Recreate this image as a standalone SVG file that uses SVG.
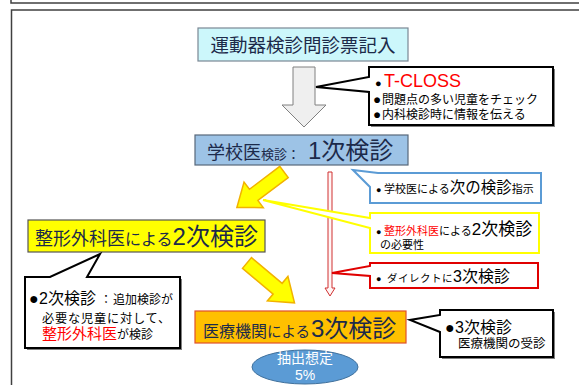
<svg xmlns="http://www.w3.org/2000/svg" width="579" height="385" viewBox="0 0 579 385">
<defs>
<style>
text{font-family:'Liberation Sans','Noto Sans CJK JP',sans-serif;fill:#000}
.nav{fill:#1c2a4a}
.red{fill:#ff0000}
.frame{fill:none;stroke:#404040;stroke-width:1.5}
.call{fill:#fff;stroke:#000;stroke-width:2;stroke-linejoin:miter}
.shadow{fill:#808080;stroke:none}
.yarrow{fill:#ffff00;stroke:#f2b200;stroke-width:1.5;stroke-linejoin:miter}
</style>
</defs>
<rect width="579" height="385" fill="#fff"/>
<g id="frame">
<path class="frame" d="M11,0 V3 H579"/>
<path class="frame" d="M579,10 H11.5 V385"/>
</g>
<g id="connectors">
<polygon points="293,67 315,67 315,105 326,105 304,127 282,105 293,105" fill="#efefef" stroke="#808080" stroke-width="1"/>
<polygon class="yarrow" transform="translate(284,172) rotate(143)" points="0,-7 38,-7 38,-16 59,0 38,16 38,7 0,7"/>
<polygon class="yarrow" transform="translate(247,263) rotate(40)" points="0,-7 40,-7 40,-16 62,0 40,16 40,7 0,7"/>
<polygon points="328,172 332,172 332,288 335,288 330,296 325,288 328,288" fill="#fff5f5" stroke="#d03030" stroke-width="1"/>
</g>
<g id="n1">
<rect x="198" y="28" width="210" height="33" fill="#ccf7fb" stroke="#7a8794" stroke-width="1.2"/>
<text x="303" y="52" font-size="18.5" text-anchor="middle" class="nav">運動器検診問診票記入</text>
</g>
<g id="tcloss">
<path class="shadow" d="M371,69 H555 V127 H371 Z"/>
<path class="call" d="M369,67 H553 V125 H369 V92 L316,87 L369,77 Z"/>
<text y="87"><tspan x="375" font-size="11">●</tspan><tspan x="384" font-size="18" class="red">T-CLOSS</tspan></text>
<text y="104" font-size="12"><tspan x="373" font-size="13.5">●</tspan><tspan x="382">問題点の多い児童をチェック</tspan></text>
<text y="119" font-size="12"><tspan x="373" font-size="13.5">●</tspan><tspan x="382">内科検診時に情報を伝える</tspan></text>
</g>
<g id="n2">
<rect x="195" y="135" width="213" height="30" fill="#9dc3e6" stroke="#58687a" stroke-width="1.2"/>
<text y="159" class="nav"><tspan x="207" font-size="18">学校医</tspan><tspan font-size="13">検診</tspan><tspan font-size="13">：</tspan><tspan x="308" font-size="24">1次検診</tspan></text>
</g>
<g id="blue">
<path d="M353,170 L378,173 H541 V203 H370 V187 Z" fill="#fff" stroke="#5b9bd5" stroke-width="2"/>
<text y="193"><tspan x="376" font-size="9">●</tspan><tspan x="384" font-size="11">学校医による</tspan><tspan font-size="15.5">次の検診</tspan><tspan font-size="11">指示</tspan></text>
</g>
<g id="yellow">
<path d="M370,213 H539 V253 H370 V228 L263,200 L370,218 Z" fill="#fff" stroke="#ffff00" stroke-width="2"/>
<text y="235"><tspan x="376" font-size="9">●</tspan><tspan x="384" font-size="11" class="red">整形外科医</tspan><tspan font-size="11">による</tspan><tspan font-size="17">2次検診</tspan></text>
<text x="380" y="249" font-size="11">の必要性</text>
</g>
<g id="redc">
<path d="M370,263 H538 V288 H370 V276 L332,273 L370,266 Z" fill="#fff" stroke="#e00000" stroke-width="2"/>
<text y="282"><tspan x="376" font-size="9">●</tspan><tspan x="387" font-size="10.5" letter-spacing="0.5">ダイレクトに</tspan><tspan font-size="16">3次検診</tspan></text>
</g>
<g id="n3">
<rect x="28" y="220" width="237" height="32" fill="#ffff00" stroke="#555" stroke-width="1.2"/>
<text y="245" class="nav"><tspan x="35" font-size="18">整形外科医</tspan><tspan font-size="16">による</tspan><tspan font-size="24">2次検診</tspan></text>
</g>
<g id="leftc">
<path class="shadow" d="M27,279 H182 V350 H27 Z"/>
<path class="call" d="M25,277 H50 L100,254 L87,277 H180 V348 H25 Z"/>
<text y="304"><tspan x="29" font-size="16">●</tspan><tspan x="39" font-size="16">2次検診</tspan><tspan x="100" font-size="12">：</tspan><tspan x="113" font-size="12">追加検診が</tspan></text>
<text x="42" y="323" font-size="12.2" letter-spacing="0.8">必要な児童に対して、</text>
<text y="339"><tspan x="42" font-size="15" class="red">整形外科医</tspan><tspan font-size="12">が検診</tspan></text>
</g>
<g id="n4">
<rect x="195" y="311" width="211" height="32" fill="#ffc000" stroke="#e0502a" stroke-width="1.2"/>
<text y="337" class="nav"><tspan x="203" font-size="16">医療機関</tspan><tspan font-size="14.5">による</tspan><tspan x="311" font-size="24">3次検診</tspan></text>
</g>
<g id="rightc">
<path class="shadow" d="M442,312 H555 V359 H442 Z"/>
<path class="call" d="M440,310 H553 V357 H440 V332 L410,320 L440,315 Z"/>
<text y="333"><tspan x="445" font-size="16">●</tspan><tspan x="455" font-size="16">3次検診</tspan></text>
<text x="458" y="348" font-size="12.5">医療機関の受診</text>
</g>
<g id="ellipse">
<ellipse cx="305" cy="367" rx="53" ry="17" fill="#5b9bd5" stroke="#41719c" stroke-width="1"/>
<text x="305" y="363" font-size="14" text-anchor="middle" style="fill:#fff">抽出想定</text>
<text x="305" y="380" font-size="14" text-anchor="middle" style="fill:#fff">5%</text>
</g>
</svg>
